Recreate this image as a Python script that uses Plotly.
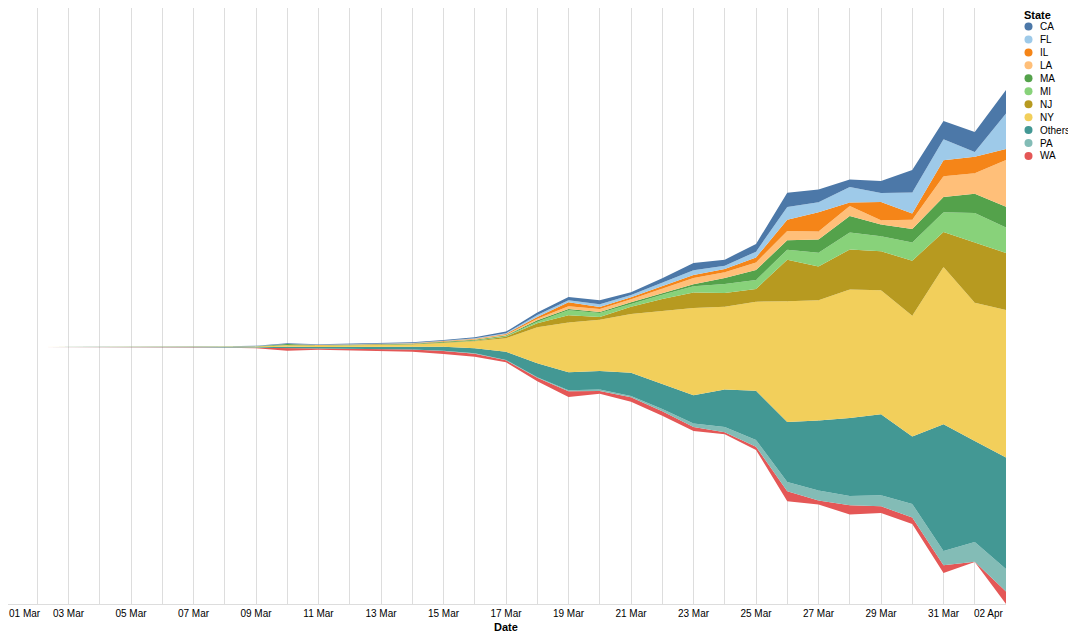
import pandas as pd
import plotly.graph_objects as go

# ---------------- data (daily new cases) ----------------
dates = pd.date_range("2020-03-02", "2020-04-02", freq="D")

CA = [0,0,0,6,6,12,12,18,35,29,41,47,47,47,58,88,146,192,233,157,233,426,350,449,840,741,432,700,1307,1067,1167,1365]
FL = [0,0,0,0,0,0,2,3,6,12,12,12,18,18,29,47,117,117,157,134,210,274,192,332,735,583,910,525,1225,1225,274,2077]
IL = [0,0,0,0,0,0,0,0,6,6,6,6,12,18,29,47,88,233,117,117,140,175,198,292,665,1126,198,1067,367,933,968,642]
LA = [0,0,0,0,0,0,0,0,0,0,6,6,12,18,29,47,88,157,175,175,268,367,327,443,542,467,583,251,542,1207,1190,2724]
MA = [0,0,0,0,0,0,6,18,58,18,29,35,29,41,35,41,88,76,58,99,99,117,350,583,542,776,968,682,782,892,1126,1207]
MI = [0,0,0,0,0,0,0,0,0,0,0,0,0,6,18,29,88,292,233,157,251,367,525,525,583,799,992,875,1067,1149,1732,1493]
NJ = [0,0,0,0,0,0,0,0,6,6,6,12,18,29,35,88,233,426,152,426,723,898,799,741,2432,1966,2333,2275,3208,2042,3500,3325]
NY = [0,0,0,0,6,18,29,47,88,88,105,128,146,216,408,782,2100,2899,2998,3424,4235,5092,4841,5191,7040,7017,7490,7233,7040,9175,8067,8598]
Others = [0,0,6,18,18,23,23,29,88,76,99,117,146,233,292,484,817,1050,1085,1359,1458,1651,2176,2876,3500,4083,4550,4725,3943,7390,5891,6510]
PA = [0,0,0,0,0,0,0,0,6,6,6,6,6,18,18,23,41,58,82,76,140,198,315,391,542,583,542,642,782,834,1149,1307]
WA = [6,12,18,29,29,23,18,23,140,70,82,99,128,175,175,117,204,332,152,257,251,233,117,192,583,233,542,391,385,449,18,735]

states = ["CA", "FL", "IL", "LA", "MA", "MI", "NJ", "NY", "Others", "PA", "WA"]
series = {"CA": CA, "FL": FL, "IL": IL, "LA": LA, "MA": MA, "MI": MI, "NJ": NJ,
          "NY": NY, "Others": Others, "PA": PA, "WA": WA}
colors = {"CA": "#4c78a8", "FL": "#9ecae9", "IL": "#f58518", "LA": "#ffbf79",
          "MA": "#54a24b", "MI": "#88d27a", "NJ": "#b79a20", "NY": "#f2cf5b",
          "Others": "#439894", "PA": "#83bcb6", "WA": "#e45756"}

tick_days = pd.date_range("2020-03-01", "2020-04-02", freq="D")
tick_text = [d.strftime("%d %b") if (i % 2 == 0 and 0 < i < len(tick_days) - 1) else ""
             for i, d in enumerate(tick_days)]

# ---------------- center ("streamgraph") baseline like Vega's stack offset ----------------
totals = [sum(series[s][i] for s in states) for i in range(len(dates))]
max_total = max(totals)
baseline = [(max_total - t) / 2 for t in totals]

fig = go.Figure()
fig.add_trace(go.Scatter(x=dates, y=baseline, mode="lines", stackgroup="s",
                         line=dict(width=0), fillcolor="rgba(0,0,0,0)",
                         showlegend=False, hoverinfo="skip"))
for s in reversed(states):  # WA at bottom ... CA on top
    fig.add_trace(go.Scatter(x=dates, y=series[s], mode="lines", stackgroup="s",
                             name=s, line=dict(width=0, color=colors[s]),
                             fillcolor=colors[s], showlegend=False))

# page body has an 8px margin: work in viewport pixels and shift by OFF
OFF = 8
W, H = 1076 - OFF, 637 - OFF
L, R, T = 0, 70, 0
PW = W - L - R          # 998 px  (viewport x 8 .. 1006)
PH = 604 - OFF - T      # value 0 at viewport y 604
B = H - T - PH
PX_PER_DAY = 31.25
x_start = tick_days[0] + pd.Timedelta(days=(OFF + L - 6) / PX_PER_DAY)
Y_PER_PX = 58.33


def px_x(Xv):
    return (Xv - OFF - L) / PW


def px_y(Yv):
    return (PH - (Yv - OFF - T)) / PH


FONT = "Liberation Sans, Arial, Helvetica, sans-serif"

annotations = []
shapes = []
# flush first / last date labels (Vega-style labelFlush)
annotations.append(dict(x=px_x(6.5), xref="paper", y=px_y(613), yref="paper",
                        text=tick_days[0].strftime("%d %b"), showarrow=False,
                        xanchor="left", yanchor="middle", font=dict(size=10, color="#000")))
annotations.append(dict(x=px_x(1006), xref="paper", y=px_y(613), yref="paper",
                        text=tick_days[-1].strftime("%d %b"), showarrow=False,
                        xanchor="right", yanchor="middle", font=dict(size=10, color="#000")))
# axis title
annotations.append(dict(x=px_x(506), xref="paper", y=px_y(627), yref="paper", text="<b>Date</b>",
                        showarrow=False, xanchor="center", yanchor="middle",
                        font=dict(size=11, color="#000")))
# legend
annotations.append(dict(x=px_x(1023), xref="paper", y=px_y(OFF), yref="paper",
                        text="<b>State</b>", showarrow=False, xanchor="left",
                        yanchor="top", font=dict(size=11, color="#000"),
                        borderpad=0))
for i, s in enumerate(states):
    yc = 26.5 + i * 12.95
    shapes.append(dict(type="circle", xref="paper", yref="paper",
                       xsizemode="pixel", ysizemode="pixel",
                       xanchor=px_x(1028.5), yanchor=px_y(yc),
                       x0=-4, x1=4, y0=-4, y1=4,
                       fillcolor=colors[s], line=dict(width=0)))
    annotations.append(dict(x=px_x(1038), xref="paper", y=px_y(yc), yref="paper",
                            text=s, showarrow=False, xanchor="left", yanchor="middle",
                            font=dict(size=10, color="#000")))

fig.update_layout(
    width=W, height=H,
    margin=dict(l=L, r=R, t=T, b=B, pad=0, autoexpand=False),
    paper_bgcolor="white", plot_bgcolor="white",
    font=dict(family=FONT, size=10, color="#000"),
    showlegend=False,
    annotations=annotations,
    shapes=shapes,
    xaxis=dict(type="date", range=[x_start, tick_days[-1]],
               tickvals=list(tick_days), ticktext=tick_text,
               showgrid=True, gridcolor="#dddddd", gridwidth=1,
               showline=True, linecolor="#dddddd", linewidth=1,
               ticks="", zeroline=False, automargin=False,
               tickfont=dict(size=10, color="#000")),
    yaxis=dict(range=[0, PH * Y_PER_PX], visible=False, showgrid=False, zeroline=False,
               fixedrange=True),
    hovermode=False,
)

fig.write_html("out.html")
